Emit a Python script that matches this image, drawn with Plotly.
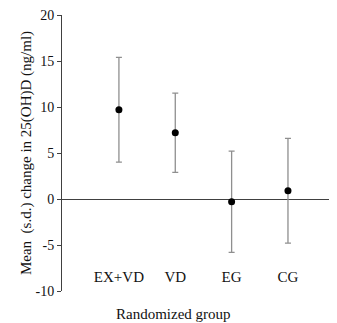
import plotly.graph_objects as go

groups = ["EX+VD", "VD", "EG", "CG"]
means = [9.7, 7.2, -0.3, 0.9]
sd = [5.7, 4.3, 5.5, 5.7]
y_ticks = [-10, -5, 0, 5, 10, 15, 20]
y_tick_text = ["-10", "-5", "0", "5", "10", "15", "20"]

font_family = "Liberation Serif, Times New Roman, serif"

fig = go.Figure()
fig.add_trace(go.Scatter(
    x=groups, y=means, mode="markers",
    marker=dict(color="black", size=7),
    error_y=dict(type="data", array=sd, visible=True, color="#8f8f8f",
                 thickness=1.3, width=3),
    showlegend=False,
))

# the page body adds an 8px offset; margins compensate for it
fig.update_layout(
    width=337, height=323,
    margin=dict(l=54, r=8, t=7, b=40, autoexpand=False),
    paper_bgcolor="white", plot_bgcolor="white",
    font=dict(family=font_family, color="#222222", size=13),
    xaxis=dict(
        type="category", range=[-1.01, 3.87],
        showgrid=False, showline=False, zeroline=False,
        ticks="", anchor="free", position=0.09,
        tickfont=dict(size=15, color="#111111"),
    ),
    yaxis=dict(
        range=[-10, 20], tickvals=y_ticks, ticktext=y_tick_text,
        showgrid=False, showline=True, linecolor="#404040", linewidth=1,
        ticks="outside", ticklen=4, tickcolor="#404040",
        zeroline=True, zerolinecolor="#404040", zerolinewidth=1,
        tickfont=dict(size=14, color="#111111"),
        ticklabeloverflow="allow",
        automargin=False,
        title=dict(text="Mean  (s.d.) change in 25(OH)D (ng/ml)",
                   font=dict(size=15, color="#111111"), standoff=0),
    ),
    annotations=[dict(
        text="Randomized group", xref="paper", yref="paper",
        x=(173 - 62) / 275, y=-(314 - 291) / 276,
        xanchor="center", yanchor="middle", showarrow=False,
        font=dict(size=15, color="#111111"),
    )],
)

fig.write_html("out.html")
